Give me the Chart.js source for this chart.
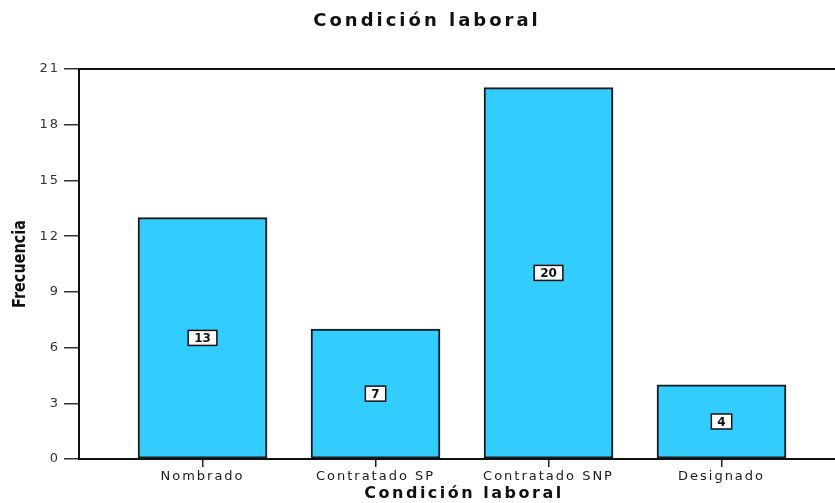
<!DOCTYPE html>
<html>
<head>
<meta charset="utf-8">
<script src="https://cdn.jsdelivr.net/npm/chart.js@4/dist/chart.umd.min.js"></script>
<style>
  html, body { margin: 0; padding: 0; background: #fff; }
  #wrap { width: 835px; height: 503px; }
</style>
</head>
<body>
<div id="wrap"><canvas id="chart" width="835" height="503"></canvas></div>
<script>
// ---------- data ----------
const categories = ["Nombrado", "Contratado SP", "Contratado SNP", "Designado"];
const frequencies = [13, 7, 20, 4];
const yTicks = [0, 3, 6, 9, 12, 15, 18, 21];

const chartTitle = "Condición laboral";
const xTitle = "Condición laboral";
const yTitle = "Frecuencia";

// ---------- plugins ----------
const frame = {
    id: 'frame',
    beforeDraw(chart) {
        chart.ctx.letterSpacing = '2px';
    },
    afterDatasetsDraw(chart) {
        const ctx = chart.ctx;
        const meta = chart.getDatasetMeta(0);
        ctx.save();
        ctx.letterSpacing = '0px';
        ctx.font = 'bold 12px "DejaVu Sans", sans-serif';
        ctx.textAlign = 'center';
        ctx.textBaseline = 'middle';
        meta.data.forEach((bar, i) => {
            const txt = String(frequencies[i]);
            const w = ctx.measureText(txt).width + 12;
            const h = 15;
            const cx = bar.x;
            const cy = (bar.y + bar.base) / 2;
            ctx.fillStyle = '#fff';
            ctx.fillRect(cx - w / 2, cy - h / 2, w, h);
            ctx.lineWidth = 1.5;
            ctx.strokeStyle = '#111';
            ctx.strokeRect(cx - w / 2, cy - h / 2, w, h);
            ctx.fillStyle = '#111';
            ctx.fillText(txt, cx, cy + 1);
        });
        ctx.restore();
    },
    afterDraw(chart) {
        const ctx = chart.ctx;
        const a = chart.chartArea;
        ctx.save();
        // top frame line
        ctx.strokeStyle = '#111';
        ctx.lineWidth = 2;
        ctx.beginPath();
        ctx.moveTo(a.left, a.top);
        ctx.lineTo(a.right, a.top);
        ctx.stroke();

        ctx.fillStyle = '#111';
        ctx.textAlign = 'center';
        ctx.textBaseline = 'middle';

        // chart title
        ctx.letterSpacing = '3px';
        ctx.font = 'bold 18px "DejaVu Sans", sans-serif';
        ctx.fillText(chartTitle, 427, 21);

        // x axis title
        ctx.letterSpacing = '2.5px';
        ctx.font = 'bold 16px "DejaVu Sans", sans-serif';
        ctx.fillText(xTitle, 464, 494);

        // y axis title (condensed)
        ctx.letterSpacing = '0px';
        ctx.font = 'bold 17px "DejaVu Sans", sans-serif';
        ctx.translate(21, 264);
        ctx.rotate(-Math.PI / 2);
        ctx.scale(0.85, 1);
        ctx.fillText(yTitle, 0, 0);
        ctx.restore();
    }
};

// ---------- chart ----------
const ctx = document.getElementById('chart');

new Chart(ctx, {
    type: 'bar',
    data: {
        datasets: [{
            data: frequencies.map((v, i) => ({ x: i, y: v })),
            backgroundColor: '#33CCFF',
            borderColor: '#1a1a1a',
            borderWidth: 2,
            borderSkipped: false,
            barThickness: 129
        }]
    },
    options: {
        responsive: false,
        animation: false,
        layout: { padding: { top: 69, left: 0, right: 0, bottom: 0 } },
        plugins: {
            legend: { display: false },
            tooltip: { enabled: false },
            title: { display: false }
        },
        scales: {
            x: {
                type: 'linear',
                offset: false,
                min: -0.714,
                max: 3.656,
                afterBuildTicks(scale) {
                    scale.ticks = categories.map((c, i) => ({ value: i }));
                },
                afterFit(scale) { scale.height = 44; },
                ticks: {
                    autoSkip: false,
                    maxRotation: 0,
                    padding: 2,
                    color: '#1a1a1a',
                    font: { family: '"DejaVu Sans", sans-serif', size: 13 },
                    callback: (v) => categories[v]
                },
                grid: {
                    offset: false,
                    drawOnChartArea: false,
                    drawTicks: true,
                    tickLength: 8,
                    color: '#222',
                    lineWidth: 1.5
                },
                border: { display: true, color: '#111', width: 2 }
            },
            y: {
                min: 0,
                max: 21,
                afterBuildTicks(scale) {
                    scale.ticks = yTicks.map(v => ({ value: v }));
                },
                afterFit(scale) { scale.width = 79; },
                ticks: {
                    padding: 4,
                    color: '#333',
                    font: { family: '"DejaVu Sans", sans-serif', size: 13 }
                },
                grid: {
                    drawOnChartArea: false,
                    drawTicks: true,
                    tickLength: 15,
                    color: '#333',
                    lineWidth: 1.5
                },
                border: { display: true, color: '#111', width: 2 }
            }
        }
    },
    plugins: [frame]
});
</script>
</body>
</html>
